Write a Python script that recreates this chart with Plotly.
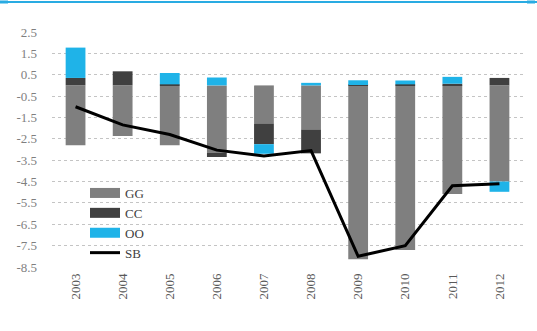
import plotly.graph_objects as go

years = ["2003", "2004", "2005", "2006", "2007", "2008", "2009", "2010", "2011", "2012"]
gg = [-2.80, -2.37, -2.80, -3.15, -1.78, -2.06, -8.14, -7.70, -5.08, -4.50]
cc = [0.35, 0.66, 0.05, -0.20, -0.97, -1.12, 0.02, 0.05, 0.08, 0.35]
oo = [1.42, 0.00, 0.53, 0.37, -0.45, 0.12, 0.22, 0.18, 0.32, -0.48]
sb = [-1.00, -1.85, -2.30, -3.03, -3.30, -3.05, -8.00, -7.50, -4.70, -4.60]
yticks = [2.5, 1.5, 0.5, -0.5, -1.5, -2.5, -3.5, -4.5, -5.5, -6.5, -7.5, -8.5]

C_GG = "#7f7f7f"
C_CC = "#404040"
C_OO = "#1fb3e8"
C_SB = "#000000"

fig = go.Figure()
for name, vals, col in [("GG", gg, C_GG), ("CC", cc, C_CC), ("OO", oo, C_OO)]:
    fig.add_trace(go.Bar(x=years, y=vals, name=name, marker=dict(color=col, line=dict(width=0)),
                         showlegend=False))
fig.add_trace(go.Scatter(x=years, y=sb, mode="lines", name="SB",
                         line=dict(color=C_SB, width=3), showlegend=False))

# legend entries (thick line swatches)
for name, col, w in [("GG", C_GG, 10), ("CC", C_CC, 10), ("OO", C_OO, 10), ("SB", C_SB, 3)]:
    fig.add_trace(go.Scatter(x=[None], y=[None], mode="lines", name=name,
                             line=dict(color=col, width=w), showlegend=True))

W, H = 537, 331
L, R, T, B = 52, 14, 32, 64
pw, ph = W - L - R, H - T - B

ytop = 1 + (T - 2) / ph
shapes = [
    dict(type="line", xref="paper", yref="paper", x0=-L / pw, x1=(W - L) / pw,
         y0=ytop, y1=ytop, line=dict(color="#29abe2", width=2)),
    dict(type="line", xref="paper", yref="paper", x0=-L / pw, x1=(8 - L) / pw,
         y0=ytop, y1=ytop, line=dict(color="#29abe2", width=3)),
    dict(type="line", xref="paper", yref="paper", x0=(527 - L) / pw, x1=(535 - L) / pw,
         y0=ytop, y1=ytop, line=dict(color="#29abe2", width=3)),
]

fig.update_layout(
    width=W, height=H,
    margin=dict(l=L, r=R, t=T, b=B),
    paper_bgcolor="white", plot_bgcolor="white",
    barmode="relative", bargap=0.58,
    font=dict(family="Liberation Serif", color="#595959"),
    shapes=shapes,
    legend=dict(x=(85 - L) / pw, y=(H - B - 178) / ph, xanchor="left", yanchor="top",
                bgcolor="rgba(0,0,0,0)", font=dict(size=13, color="#404040"),
                tracegroupgap=0, itemwidth=30),
    xaxis=dict(tickangle=-90, tickfont=dict(size=13, color="#595959"), showgrid=False,
               showline=False, ticks="", ticklabelstandoff=3),
    yaxis=dict(range=[-8.5, 2.5], tickmode="array", tickvals=yticks,
               ticktext=[f"{v:.1f}" for v in yticks],
               tickfont=dict(size=13, color="#7f7f7f"),
               showgrid=True, gridcolor="#c4c4c4", griddash="dot", gridwidth=1,
               zeroline=False, showline=False, ticks="", ticklabelstandoff=14),
    showlegend=True,
)

fig.write_html("out.html", config={"displayModeBar": False},
               post_script="document.body.style.margin='0';")
